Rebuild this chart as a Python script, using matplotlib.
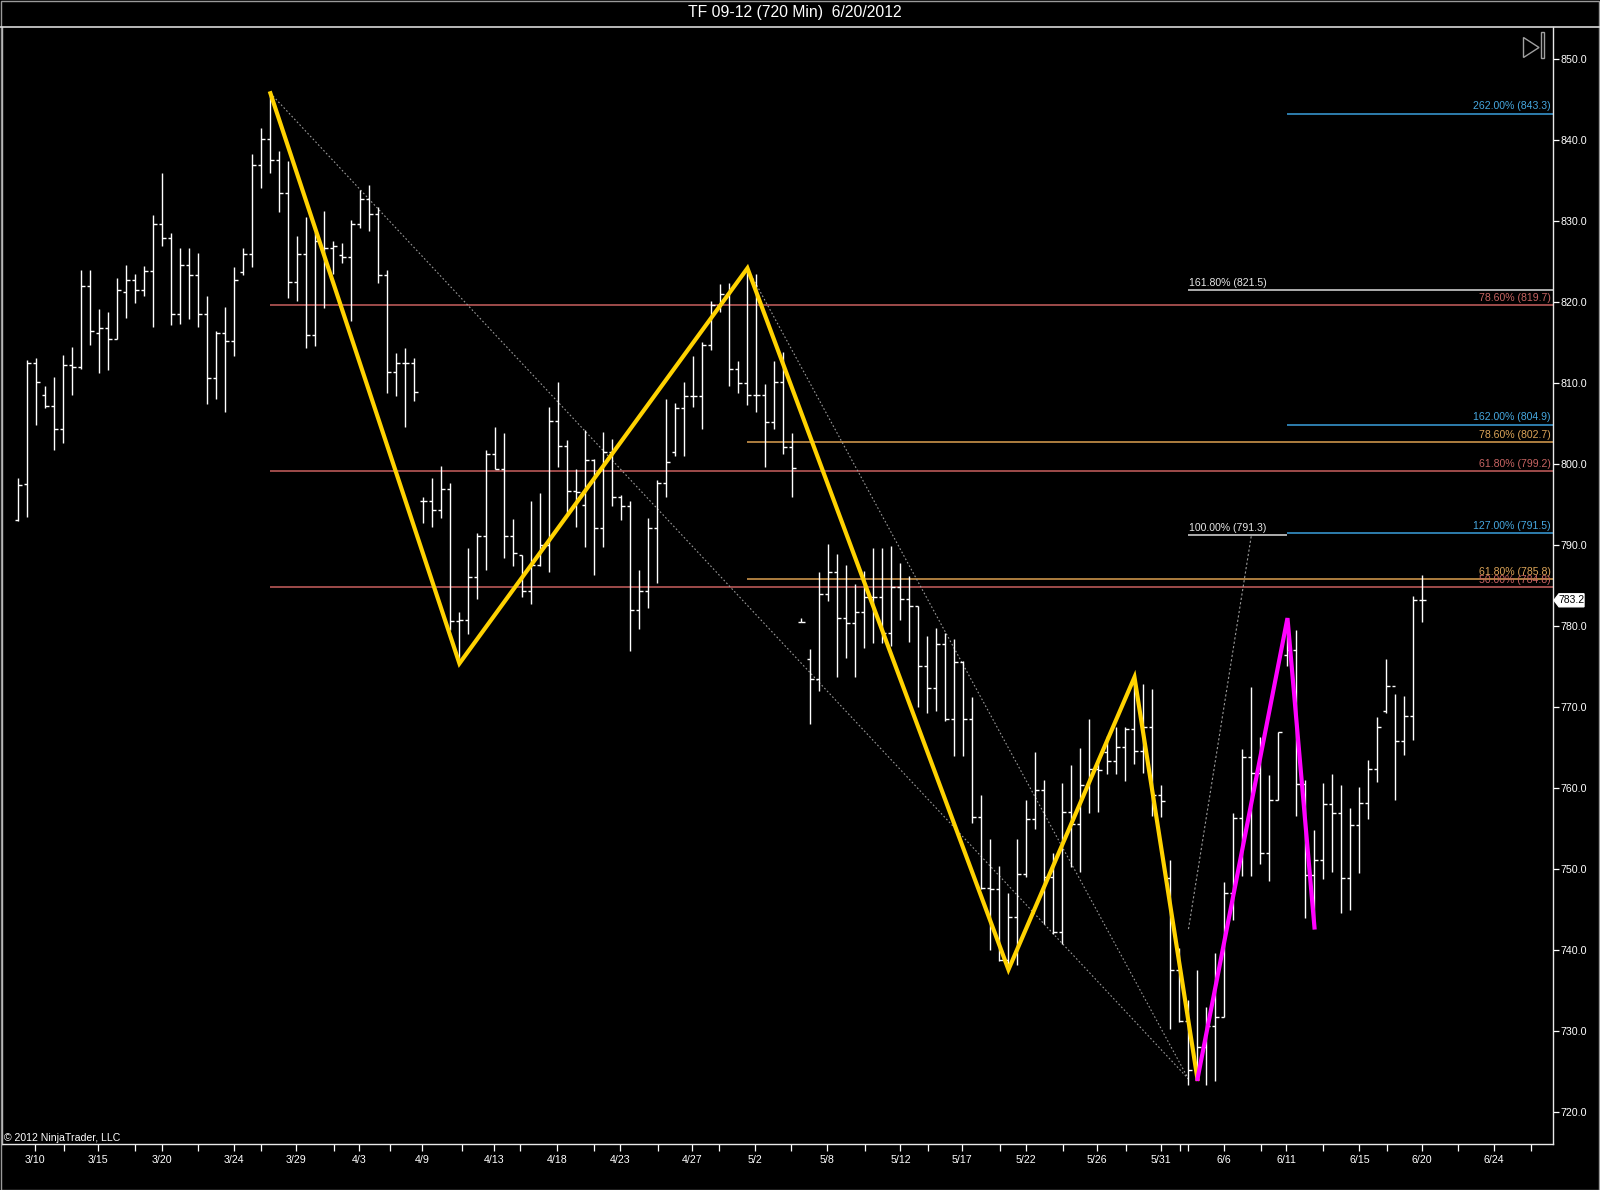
import matplotlib
matplotlib.use('Agg')
import matplotlib.pyplot as plt
from matplotlib.patches import Polygon, Rectangle
from matplotlib.lines import Line2D
import matplotlib.transforms as mtransforms

plt.rcParams['font.family'] = ['Liberation Sans', 'DejaVu Sans']

# ---------------- data ----------------
title = "TF 09-12 (720 Min)  6/20/2012"

highs = [798.3, 812.9, 813.1, 809.7, 810.8, 813.5, 814.5, 824.0, 824.0, 819.2,
         818.8, 823.0, 824.6, 823.5, 824.5, 830.8, 835.9, 828.6, 826.7, 826.7,
         826.1, 820.8, 816.4, 819.4, 824.3, 826.7, 838.3, 841.5, 845.8, 838.7,
         837.4, 828.2, 830.5, 828.7, 831.3, 827.5, 827.3, 830.2, 833.9, 834.5,
         831.8, 824.0, 813.7, 814.4, 813.1, 795.9, 798.3, 799.8, 797.7, 781.7,
         789.6, 791.5, 801.8, 804.6, 803.9, 793.2, 788.8, 795.4, 796.4, 807.1,
         810.1, 803.0, 799.4, 804.2, 800.6, 804.0, 803.1, 796.2, 795.5, 786.9,
         793.4, 798.0, 808.1, 807.6, 810.1, 813.4, 815.1, 820.1, 822.3, 822.4,
         812.7, 824.2, 823.5, 809.9, 812.7, 813.8, 803.9, 781.0, 777.2, 786.7,
         790.1, 788.9, 787.6, 785.2, 786.8, 789.7, 789.7, 789.9, 787.8, 786.2,
         782.5, 778.8, 779.8, 779.1, 778.4, 775.7, 771.2, 759.2, 753.7, 750.4,
         747.1, 753.7, 758.5, 764.5, 761.0, 752.0, 760.7, 762.9, 765.0, 768.6,
         763.4, 766.4, 767.5, 767.5, 773.7, 772.9, 772.3, 760.4, 751.1, 740.3,
         733.8, 737.5, 733.0, 739.6, 748.4, 756.9, 764.9, 772.5, 766.3, 761.6,
         766.9, 781.0, 779.5, 761.0, 754.8, 760.7, 761.8, 760.4, 757.5, 760.1,
         763.5, 768.8, 775.9, 771.6, 771.4, 783.7, 786.3]
lows = [793.0, 793.5, 804.9, 806.9, 801.8, 802.6, 808.5, 811.7, 814.7, 811.3,
        811.6, 815.4, 818.1, 819.9, 820.8, 817.0, 826.9, 817.2, 817.3, 817.9,
        817.0, 807.4, 808.0, 806.4, 813.4, 823.3, 824.4, 834.1, 836.0, 831.2,
        820.5, 820.2, 814.3, 814.6, 819.3, 823.5, 824.8, 817.7, 829.2, 828.8,
        822.4, 808.8, 808.4, 804.6, 807.8, 792.7, 792.3, 793.4, 779.5, 775.4,
        779.0, 783.4, 786.9, 799.4, 788.4, 787.4, 783.6, 782.8, 787.4, 786.7,
        799.7, 794.0, 792.3, 789.8, 786.3, 789.8, 794.8, 793.1, 776.9, 779.7,
        782.3, 785.3, 795.9, 801.0, 801.0, 807.1, 804.4, 814.1, 818.8, 809.7,
        808.8, 807.3, 806.5, 799.7, 804.4, 801.2, 795.9, 780.5, 767.9, 772.0,
        783.1, 773.7, 776.1, 773.7, 777.3, 777.9, 777.9, 777.5, 780.8, 778.0,
        770.0, 769.3, 769.5, 768.3, 764.0, 764.0, 755.7, 747.6, 740.0, 738.7,
        737.6, 738.2, 749.0, 754.9, 743.2, 742.0, 740.8, 750.3, 749.6, 756.9,
        757.0, 761.7, 761.7, 760.9, 763.0, 761.9, 756.6, 756.4, 730.3, 731.1,
        723.4, 724.1, 723.4, 723.9, 731.8, 743.7, 749.1, 749.1, 750.6, 748.5,
        758.5, 775.1, 756.6, 744.0, 742.8, 748.8, 749.7, 744.6, 745.0, 749.5,
        756.2, 760.8, 769.3, 758.6, 764.1, 765.9, 780.5]
opens = [793.1, 797.5, 812.5, 808.5, 807.2, 804.3, 812.2, 812.0, 822.0, 816.2,
         816.8, 815.5, 821.3, 822.7, 821.5, 823.9, 829.6, 827.9, 818.6, 824.6,
         823.3, 818.5, 810.7, 816.2, 815.2, 823.7, 826.0, 837.0, 840.1, 837.6,
         833.5, 822.5, 826.0, 815.9, 826.7, 826.7, 825.8, 825.6, 829.6, 832.8,
         830.9, 823.4, 811.4, 812.5, 812.5, 795.4, 795.5, 794.4, 796.9, 780.6,
         780.8, 786.1, 791.1, 801.2, 799.4, 791.1, 788.8, 784.4, 787.6, 790.0,
         805.3, 802.3, 796.7, 795.0, 800.5, 792.1, 801.5, 796.0, 794.8, 782.0,
         784.4, 792.1, 797.7, 801.5, 807.0, 808.4, 808.4, 814.7, 819.7, 821.0,
         811.7, 810.0, 808.6, 808.5, 805.2, 810.1, 802.1, 780.5, 776.0, 773.5,
         784.0, 786.7, 781.0, 780.4, 781.7, 783.6, 783.6, 779.1, 784.9, 783.3,
         782.5, 775.1, 772.4, 777.8, 768.6, 775.6, 768.5, 756.4, 747.7, 747.6,
         738.8, 744.1, 749.4, 756.2, 759.8, 749.0, 742.3, 757.0, 755.6, 760.4,
         762.4, 764.5, 763.3, 765.1, 767.3, 764.6, 767.5, 759.2, 748.9, 737.6,
         731.2, 725.2, 728.0, 730.6, 731.8, 747.0, 756.3, 763.9, 761.9, 752.0,
         758.5, 776.5, 777.1, 760.5, 749.3, 751.1, 758.0, 756.9, 748.9, 755.4,
         758.2, 762.4, 769.5, 772.6, 765.8, 768.9, 783.2]
closes = [797.4, 812.5, 810.1, 807.2, 804.3, 812.2, 812.0, 822.0, 816.4, 816.8,
          815.5, 821.5, 822.7, 821.5, 823.9, 829.6, 827.9, 818.6, 824.6, 823.3,
          818.5, 810.7, 816.2, 815.2, 822.8, 826.0, 837.0, 840.1, 837.6, 833.5,
          822.5, 826.0, 815.9, 827.5, 826.7, 826.9, 825.6, 829.6, 832.8, 830.9,
          823.4, 811.4, 812.5, 812.5, 808.9, 795.5, 794.4, 796.9, 780.6, 780.8,
          786.1, 791.1, 801.2, 799.4, 791.1, 789.0, 784.4, 787.6, 790.0, 805.3,
          802.3, 796.7, 796.6, 800.5, 792.1, 801.5, 796.0, 794.8, 782.0, 784.4,
          792.1, 797.7, 800.3, 807.0, 808.4, 808.4, 814.7, 819.7, 821.0, 811.7,
          810.0, 808.6, 808.5, 805.2, 810.1, 802.1, 799.5, 780.5, 773.5, 784.0,
          786.7, 781.0, 780.4, 781.7, 783.6, 783.6, 779.1, 784.9, 783.3, 782.5,
          775.1, 772.4, 777.8, 768.6, 775.6, 768.5, 756.4, 747.7, 747.6, 738.8,
          744.1, 749.4, 756.2, 759.8, 749.0, 742.3, 757.0, 755.6, 760.4, 762.4,
          762.2, 763.3, 765.1, 767.3, 764.6, 767.5, 759.2, 758.4, 737.6, 731.2,
          725.2, 728.0, 730.6, 731.8, 747.0, 756.3, 763.9, 761.9, 752.0, 758.5,
          766.9, 777.1, 760.5, 749.3, 751.1, 758.0, 756.9, 748.9, 755.4, 758.2,
          762.4, 767.6, 772.6, 765.8, 768.9, 783.2, 783.2]

# zigzag swings (bar index, price)
zz_x = [28, 49, 81, 110, 124, 131]
zz_y = [845.8, 775.4, 824.2, 737.6, 773.7, 724.1]
mg_x = [131, 141, 144]
mg_y = [724.1, 781.0, 742.8]

# thin gray trend lines (bar index, price)
trend_from_x = [28, 81]
trend_from_y = [845.8, 824.2]
trend_to_x = [130, 130]
trend_to_y = [724.1, 724.1]
dash_x = [130, 137]
dash_y = [742.6, 791.3]

# fibonacci levels
fib_labels = ['262.00% (843.3)', '161.80% (821.5)', '78.60% (819.7)',
              '162.00% (804.9)', '78.60% (802.7)', '61.80% (799.2)',
              '100.00% (791.3)', '127.00% (791.5)', '61.80% (785.8)',
              '50.00% (784.8)']
fib_values = [843.3, 821.5, 819.7, 804.9, 802.7, 799.2, 791.3, 791.5, 785.8, 784.8]
fib_start = [141, 130, 28, 141, 81, 28, 130, 141, 81, 28]
fib_kind = ['ext', 'base', 'ret1', 'ext', 'ret2', 'ret1', 'base', 'ext', 'ret2', 'ret1']

date_labels = ['3/10', '3/15', '3/20', '3/24', '3/29', '4/3', '4/9', '4/13', '4/18',
               '4/23', '4/27', '5/2', '5/8', '5/12', '5/17', '5/22', '5/26', '5/31',
               '6/6', '6/11', '6/15', '6/20', '6/24']
date_pos = [1.81, 8.84, 15.92, 23.92, 30.84, 37.81, 44.84, 52.84, 59.84, 66.84,
            74.84, 81.84, 89.84, 98.0, 104.84, 111.96, 119.84, 126.96, 133.9,
            140.84, 149.0, 155.95, 163.96]
minor_pos = [5.04, 12.98, 19.96, 26.98, 35.09, 41.32, 49.26, 55.78, 64.0, 71.09,
             77.89, 85.82, 94.04, 101.02, 109.07, 116.04, 123.01, 129.08, 129.93,
             138.03, 144.96, 152.03, 159.98, 168.02]
y_ticks = [720, 730, 740, 750, 760, 770, 780, 790, 800, 810, 820, 830, 840, 850]
last_price = 783.2

# ---------------- styling ----------------
W, H = 1600, 1190
AX_L, AX_R, AX_T, AX_B = 2, 1553, 27, 1144
kind_color = {'ext': '#3a9fdc', 'base': '#dcdcdc', 'ret1': '#c8605f', 'ret2': '#dca050'}
kind_text = {'ext': '#46a8e0', 'base': '#e6e6e6', 'ret1': '#c86462', 'ret2': '#dca458'}

fig = plt.figure(figsize=(W / 100, H / 100), dpi=100, facecolor='black')
ax = fig.add_axes([AX_L / W, 1 - AX_B / H, (AX_R - AX_L) / W, (AX_B - AX_T) / H])
ax.set_facecolor('black')

x0 = -1.82
x1 = 170.5
ax.set_xlim(x0, x1)
ax.set_ylim(716.07, 853.98)

n = len(highs)
xs = list(range(n))
ax.vlines(xs, lows, highs, color='white', lw=1.0, zorder=3)
tl = 0.36
ax.hlines(opens, [x - tl for x in xs], xs, color='white', lw=1.0, zorder=3)
ax.hlines(closes, xs, [x + tl for x in xs], color='white', lw=1.0, zorder=3)

# fib lines
for lab, v, s, k in zip(fib_labels, fib_values, fib_start, fib_kind):
    e = x1
    if lab.startswith('100.00%'):
        e = 141
    ax.plot([s, e], [v, v], color=kind_color[k], lw=1.1, zorder=2, solid_capstyle='butt')
    if k == 'base':
        ax.annotate(lab, (s + 0.1, v), xytext=(0, 1.5), textcoords='offset points',
                    ha='left', va='bottom', color=kind_text[k], fontsize=7.6, zorder=6)
    else:
        ax.annotate(lab, (x1 - 0.25, v), xytext=(0, 1.5), textcoords='offset points',
                    ha='right', va='bottom', color=kind_text[k], fontsize=7.6, zorder=6)

# gray trend lines
for fx, fy, tx, ty in zip(trend_from_x, trend_from_y, trend_to_x, trend_to_y):
    ax.plot([fx, tx], [fy, ty], color='#9a9a9a', lw=0.8, ls=(0, (1.5, 2)), zorder=2)
ax.plot(dash_x, dash_y, color='#9a9a9a', lw=0.8, ls=(0, (2, 2)), zorder=2)

# zigzags
ax.plot(zz_x, zz_y, color='#ffd200', lw=3.0, zorder=4, solid_joinstyle='miter')
ax.plot(mg_x, mg_y, color='#ff00ff', lw=3.0, zorder=4, solid_joinstyle='miter')

# axes styling
ax.spines['top'].set_visible(False)
ax.spines['left'].set_color('#bdbdbd')
ax.spines['left'].set_linewidth(1.0)
ax.spines['bottom'].set_color('#e8e8e8')
ax.spines['right'].set_color('#e8e8e8')
ax.spines['bottom'].set_linewidth(1.0)
ax.spines['right'].set_linewidth(1.0)

ax.yaxis.tick_right()
ax.set_yticks(y_ticks)
ax.set_yticklabels(['%.1f' % t for t in y_ticks])
ax.tick_params(axis='y', colors='white', labelcolor='white', labelsize=7.7,
               length=4, width=0.9, direction='out', pad=1.5, left=False)
ax.set_xticks(date_pos)
ax.set_xticklabels(date_labels)
ax.set_xticks(minor_pos, minor=True)
ax.tick_params(axis='x', which='both', colors='white', labelcolor='white', labelsize=7.7,
               length=5, width=0.9, direction='out', pad=3)

# last price marker
blend = mtransforms.blended_transform_factory(ax.transAxes, ax.transData)
px = 1.0 / (AX_R - AX_L)
py = 1.0 / 8.1
mk = Polygon([(1.0 + 1 * px, last_price), (1.0 + 6 * px, last_price - 6.5 * py),
              (1.0 + 31 * px, last_price - 6.5 * py), (1.0 + 31 * px, last_price + 6.5 * py),
              (1.0 + 6 * px, last_price + 6.5 * py)],
             closed=True, transform=blend, facecolor='white', edgecolor='white',
             clip_on=False, zorder=7)
ax.add_patch(mk)
ax.text(1.0 + 18.5 * px, last_price, '%.1f' % last_price, transform=blend, ha='center',
        va='center', color='black', fontsize=7.5, clip_on=False, zorder=8)

# figure-level decorations
fig.text(795 / W, 1 - 12.5 / H, title, ha='center', va='center', color='white', fontsize=11.3)
fig.add_artist(Line2D([0, 1], [1 - 27 / H, 1 - 27 / H], color='#d8d8d8', lw=1.2,
                      transform=fig.transFigure))
fig.add_artist(Rectangle((0.5 / W, 0.5 / H), 1 - 1.5 / W, 1 - 1.5 / H, fill=False,
                         edgecolor='#9a9a9a', lw=1.0, transform=fig.transFigure))
fig.text(4 / W, 1 - 1138 / H, '\u00a9 2012 NinjaTrader, LLC', ha='left', va='center',
         color='white', fontsize=7.6)

# play-to-end icon
tri = Polygon([(1523.5 / W, 1 - 37.5 / H), (1539 / W, 1 - 47.5 / H), (1523.5 / W, 1 - 57.5 / H)],
              closed=True, fill=False, edgecolor='#a0a0a0', lw=1.0, transform=fig.transFigure)
fig.add_artist(tri)
fig.add_artist(Rectangle((1540.5 / W, 1 - 57.5 / H), 3.2 / W, 25 / H, fill=False,
                         edgecolor='#a0a0a0', lw=1.0, transform=fig.transFigure))

fig.savefig('out.png', dpi=100, facecolor='black')
